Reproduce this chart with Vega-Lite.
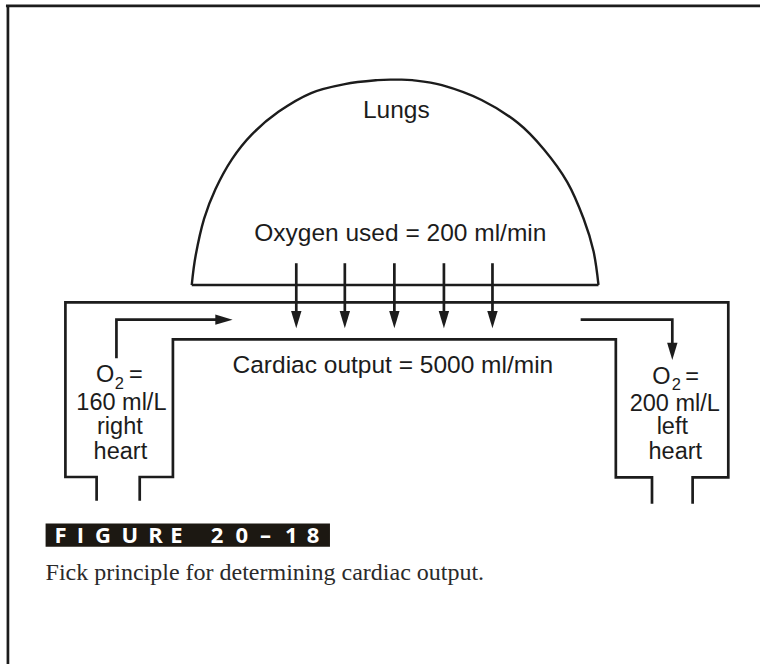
{
  "$schema": "https://vega.github.io/schema/vega-lite/v6.json",
  "width": 766,
  "height": 670,
  "autosize": {"type": "fit", "contains": "padding"},
  "padding": 0,
  "background": "#ffffff",
  "config": {"view": {"stroke": null}},
  "datasets": {
    "lines": [
      {"p": "outer", "i": 0, "x": 96.5, "y": 505},
      {"p": "outer", "i": 1, "x": 96.5, "y": 481},
      {"p": "outer", "i": 2, "x": 65, "y": 481},
      {"p": "outer", "i": 3, "x": 65, "y": 304.5},
      {"p": "outer", "i": 4, "x": 734, "y": 304.5},
      {"p": "outer", "i": 5, "x": 734, "y": 481.5},
      {"p": "outer", "i": 6, "x": 698, "y": 481.5},
      {"p": "outer", "i": 7, "x": 698, "y": 508},
      {"p": "inner", "i": 0, "x": 140, "y": 505},
      {"p": "inner", "i": 1, "x": 140, "y": 481},
      {"p": "inner", "i": 2, "x": 173.5, "y": 481},
      {"p": "inner", "i": 3, "x": 173.5, "y": 342},
      {"p": "inner", "i": 4, "x": 620.5, "y": 342},
      {"p": "inner", "i": 5, "x": 620.5, "y": 481.5},
      {"p": "inner", "i": 6, "x": 657, "y": 481.5},
      {"p": "inner", "i": 7, "x": 657, "y": 508},
      {"p": "arrowL", "i": 0, "x": 116.5, "y": 361},
      {"p": "arrowL", "i": 1, "x": 116.5, "y": 322},
      {"p": "arrowL", "i": 2, "x": 220, "y": 322},
      {"p": "arrowR", "i": 0, "x": 585, "y": 322},
      {"p": "arrowR", "i": 1, "x": 677.5, "y": 322},
      {"p": "arrowR", "i": 2, "x": 677.5, "y": 348},
      {"p": "d1", "i": 0, "x": 298, "y": 265},
      {"p": "d1", "i": 1, "x": 298, "y": 316},
      {"p": "d2", "i": 0, "x": 347, "y": 265},
      {"p": "d2", "i": 1, "x": 347, "y": 316},
      {"p": "d3", "i": 0, "x": 397, "y": 265},
      {"p": "d3", "i": 1, "x": 397, "y": 316},
      {"p": "d4", "i": 0, "x": 447, "y": 265},
      {"p": "d4", "i": 1, "x": 447, "y": 316},
      {"p": "d5", "i": 0, "x": 496, "y": 265},
      {"p": "d5", "i": 1, "x": 496, "y": 316},
      {"p": "base", "i": 0, "x": 192.5, "y": 287},
      {"p": "base", "i": 1, "x": 603, "y": 287},
      {"p": "frameTop", "i": 0, "x": 5, "y": 5},
      {"p": "frameTop", "i": 1, "x": 766, "y": 5},
      {"p": "frameLeft", "i": 0, "x": 7, "y": 5},
      {"p": "frameLeft", "i": 1, "x": 7, "y": 670}
    ],
    "dome": [
      {"i": 0, "x": 192.5, "y": 287},
      {"i": 1, "x": 196.5, "y": 257},
      {"i": 2, "x": 205, "y": 220},
      {"i": 3, "x": 216.5, "y": 190},
      {"i": 4, "x": 233, "y": 160},
      {"i": 5, "x": 253, "y": 135},
      {"i": 6, "x": 280, "y": 112},
      {"i": 7, "x": 313, "y": 93},
      {"i": 8, "x": 347, "y": 84},
      {"i": 9, "x": 380, "y": 80},
      {"i": 10, "x": 398, "y": 79.5},
      {"i": 11, "x": 415, "y": 80},
      {"i": 12, "x": 445, "y": 85},
      {"i": 13, "x": 485, "y": 100},
      {"i": 14, "x": 521.5, "y": 123},
      {"i": 15, "x": 548, "y": 150},
      {"i": 16, "x": 571.5, "y": 183},
      {"i": 17, "x": 588, "y": 220},
      {"i": 18, "x": 598, "y": 253},
      {"i": 19, "x": 603, "y": 287}
    ],
    "heads": [
      {"d": "down", "x": 298, "y": 322},
      {"d": "down", "x": 347, "y": 322},
      {"d": "down", "x": 397, "y": 322},
      {"d": "down", "x": 447, "y": 322},
      {"d": "down", "x": 496, "y": 322},
      {"d": "right", "x": 225, "y": 322},
      {"d": "down", "x": 677.5, "y": 354}
    ],
    "labels": [
      {"t": "Lungs", "x": 399, "y": 118},
      {"t": "Oxygen used = 200 ml/min", "x": 403, "y": 242.5},
      {"t": "Cardiac output = 5000 ml/min", "x": 395.5, "y": 375.5}
    ],
    "side": [
      {"t": "O", "x": 105, "y": 385},
      {"t": "=", "x": 136, "y": 385},
      {"t": "160 ml/L", "x": 121.5, "y": 413},
      {"t": "right", "x": 120, "y": 438},
      {"t": "heart", "x": 120.5, "y": 462.5},
      {"t": "O", "x": 666.5, "y": 387},
      {"t": "=", "x": 697.5, "y": 387},
      {"t": "200 ml/L", "x": 680, "y": 414},
      {"t": "left", "x": 677.5, "y": 438},
      {"t": "heart", "x": 680.5, "y": 462.5}
    ],
    "subs": [
      {"t": "2", "x": 119.5, "y": 392},
      {"t": "2", "x": 681.5, "y": 393}
    ],
    "box": [
      {"x": 45, "x2": 332, "y": 528, "y2": 551.5}
    ],
    "fig": [
      {"t": "F", "x": 60, "y": 548},
      {"t": "I", "x": 80, "y": 548},
      {"t": "G", "x": 103, "y": 548},
      {"t": "U", "x": 130, "y": 548},
      {"t": "R", "x": 156, "y": 548},
      {"t": "E", "x": 177, "y": 548},
      {"t": "2", "x": 218, "y": 548},
      {"t": "0", "x": 243, "y": 548},
      {"t": "–", "x": 267, "y": 548},
      {"t": "1", "x": 293, "y": 548},
      {"t": "8", "x": 315, "y": 548}
    ],
    "caption": [
      {"t": "Fick principle for determining cardiac output.", "x": 45, "y": 585}
    ]
  },
  "encoding": {
    "x": {"field": "x", "type": "quantitative", "scale": {"domain": [0, 766], "nice": false, "zero": false}, "axis": null},
    "y": {"field": "y", "type": "quantitative", "scale": {"domain": [0, 670], "nice": false, "zero": false, "reverse": true}, "axis": null}
  },
  "layer": [
    {
      "data": {"name": "box"},
      "mark": {"type": "rect", "color": "#1c1812"},
      "encoding": {
        "x2": {"field": "x2"},
        "y2": {"field": "y2"}
      }
    },
    {
      "data": {"name": "lines"},
      "mark": {"type": "line", "color": "#1c1c1c", "strokeWidth": 2.7, "strokeJoin": "miter", "strokeCap": "butt"},
      "encoding": {
        "detail": {"field": "p", "type": "nominal"},
        "order": {"field": "i", "type": "quantitative"}
      }
    },
    {
      "data": {"name": "dome"},
      "mark": {"type": "line", "color": "#1c1c1c", "strokeWidth": 2.4, "interpolate": "cardinal"},
      "encoding": {
        "order": {"field": "i", "type": "quantitative"}
      }
    },
    {
      "data": {"name": "heads"},
      "mark": {"type": "point", "filled": true, "color": "#1c1c1c", "opacity": 1, "size": 300},
      "encoding": {
        "shape": {
          "field": "d", "type": "nominal",
          "scale": {"domain": ["down", "right"], "range": ["M -0.6 -1 L 0.6 -1 L 0 1 Z", "M -1 -0.6 L -1 0.6 L 1 0 Z"]},
          "legend": null
        }
      }
    },
    {
      "data": {"name": "labels"},
      "mark": {"type": "text", "font": "Liberation Sans", "fontSize": 24.5, "color": "#1c1c1c", "align": "center", "baseline": "alphabetic"},
      "encoding": {"text": {"field": "t"}}
    },
    {
      "data": {"name": "side"},
      "mark": {"type": "text", "font": "Liberation Sans", "fontSize": 23.5, "color": "#1c1c1c", "align": "center", "baseline": "alphabetic", "lineHeight": 22},
      "encoding": {"text": {"field": "t"}}
    },
    {
      "data": {"name": "subs"},
      "mark": {"type": "text", "font": "Liberation Sans", "fontSize": 16.5, "color": "#1c1c1c", "align": "center", "baseline": "alphabetic"},
      "encoding": {"text": {"field": "t"}}
    },
    {
      "data": {"name": "fig"},
      "mark": {"type": "text", "font": "Open Sans", "fontWeight": "bold", "fontSize": 22, "color": "#ffffff", "align": "center", "baseline": "alphabetic"},
      "encoding": {"text": {"field": "t"}}
    },
    {
      "data": {"name": "caption"},
      "mark": {"type": "text", "font": "Liberation Serif", "fontSize": 24, "color": "#2a2a2a", "align": "left", "baseline": "alphabetic"},
      "encoding": {"text": {"field": "t"}}
    }
  ]
}
